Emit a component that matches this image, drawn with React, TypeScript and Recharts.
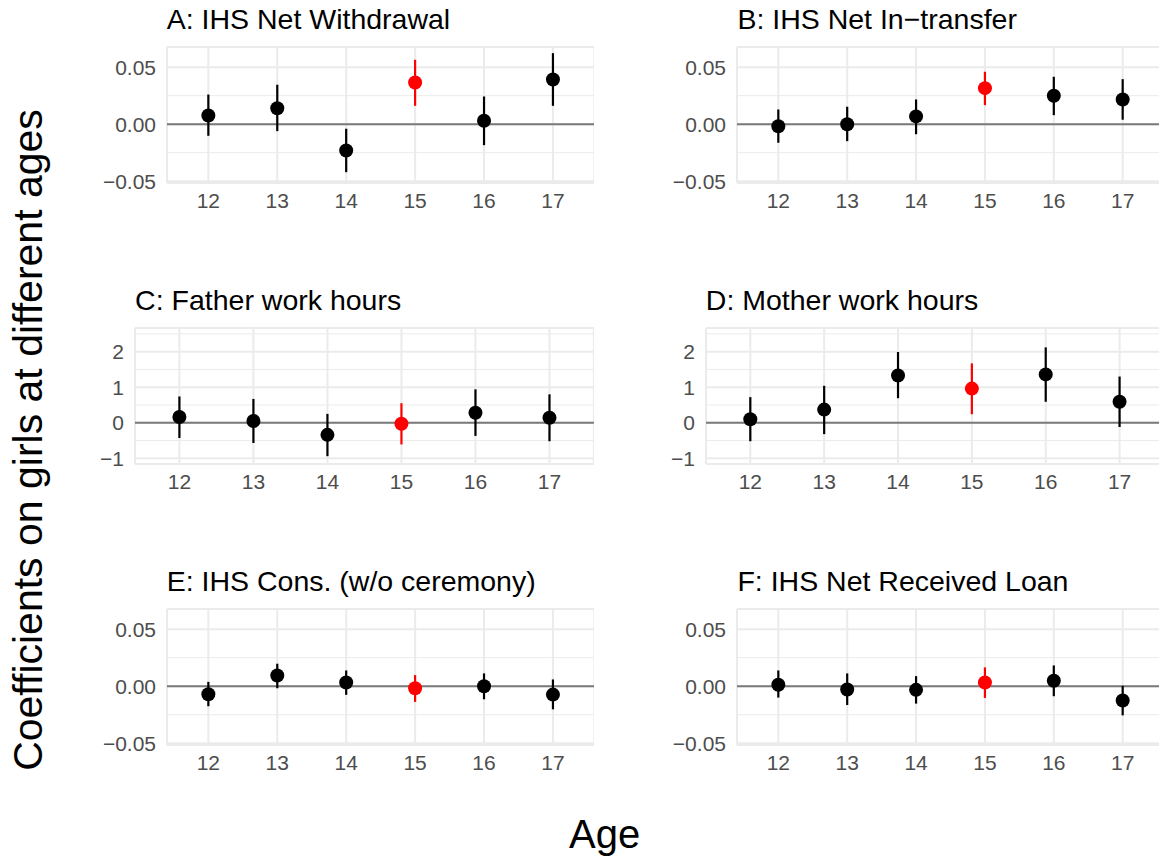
import React from "react";
import {
  ScatterChart,
  Scatter,
  XAxis,
  YAxis,
  CartesianGrid,
  ReferenceLine,
  ErrorBar,
} from "recharts";

const ages = [12, 13, 14, 15, 16, 17];
const highlightAge = 15;

const aEst = [0.0076, 0.014, -0.0231, 0.0366, 0.003, 0.0392];
const aLo = [-0.0102, -0.0061, -0.0421, 0.0161, -0.0184, 0.0161];
const aHi = [0.026, 0.0346, -0.004, 0.0565, 0.0243, 0.0623];

const bEst = [-0.0018, 0.0, 0.0068, 0.0316, 0.0249, 0.0217];
const bLo = [-0.0163, -0.0149, -0.0088, 0.0167, 0.0079, 0.0039];
const bHi = [0.0129, 0.0153, 0.0217, 0.046, 0.0416, 0.0395];

const cEst = [0.16, 0.05, -0.34, -0.03, 0.28, 0.14];
const cLo = [-0.43, -0.57, -0.94, -0.61, -0.37, -0.52];
const cHi = [0.74, 0.67, 0.25, 0.55, 0.94, 0.8];

const dEst = [0.1, 0.37, 1.33, 0.96, 1.36, 0.59];
const dLo = [-0.52, -0.32, 0.69, 0.24, 0.59, -0.12];
const dHi = [0.72, 1.04, 1.99, 1.67, 2.12, 1.3];

const eEst = [-0.0071, 0.0094, 0.0032, -0.0018, 0.0, -0.0074];
const eLo = [-0.0176, -0.0018, -0.0076, -0.0138, -0.0115, -0.0203];
const eHi = [0.0038, 0.0197, 0.0138, 0.0097, 0.0112, 0.0059];

const fEst = [0.0012, -0.0029, -0.0032, 0.0032, 0.0047, -0.0126];
const fLo = [-0.01, -0.0165, -0.0153, -0.0103, -0.0088, -0.0256];
const fHi = [0.0138, 0.0112, 0.0088, 0.0165, 0.0182, 0.0003];

const smallTicks = [-0.05, 0, 0.05];
const smallMinor = [-0.025, 0.025];
const bigTicks = [-1, 0, 1, 2];
const bigMinor = [-0.5, 0.5, 1.5, 2.5];

const titles = [
  "A: IHS Net Withdrawal",
  "B: IHS Net In\u2212transfer",
  "C: Father work hours",
  "D: Mother work hours",
  "E: IHS Cons. (w/o ceremony)",
  "F: IHS Net Received Loan",
];
const yTitle = "Coefficients on girls at different ages";
const xTitle = "Age";

const FONT = '"Liberation Sans", Arial, Helvetica, sans-serif';
const MINUS = "\u2212";

const fmtSmall = (v: number) =>
  (v < 0 ? MINUS : "") + Math.abs(v).toFixed(2);
const fmtBig = (v: number) => (v < 0 ? MINUS : "") + String(Math.abs(v));

const smallDomain: [number, number] = [-0.0516, 0.0677];
const bigDomain: [number, number] = [-1.16, 2.665];

const TICK_FS = 21;

const Dot = (color: string) => (props: any) =>
  <circle cx={props.cx} cy={props.cy} r={7} fill={color} />;

type PanelProps = {
  title: string;
  left: number;
  top: number;
  width: number;
  height: number;
  yDomain: [number, number];
  yTicks: number[];
  minor: number[];
  fmt: (v: number) => string;
  est: number[];
  lo: number[];
  hi: number[];
};

function Panel(p: PanelProps) {
  const AXW = 110;
  const TOPM = 12;
  const AXH = 44;
  const rows = ages.map((age, i) => ({
    age,
    est: p.est[i],
    err: [p.est[i] - p.lo[i], p.hi[i] - p.est[i]],
  }));
  const blackRows = rows.filter((r) => r.age !== highlightAge);
  const redRows = rows.filter((r) => r.age === highlightAge);
  const titleFs = 28.5;
  const baseline = p.top - 17;
  return (
    <>
      <div
        style={{
          position: "absolute",
          left: p.left,
          top: baseline - 0.8465 * titleFs,
          fontSize: titleFs,
          lineHeight: 1,
          fontFamily: FONT,
          color: "#000",
          whiteSpace: "nowrap",
        }}
      >
        {p.title}
      </div>
      <div style={{ position: "absolute", left: p.left - AXW, top: p.top - TOPM }}>
        <ScatterChart
          width={AXW + p.width}
          height={TOPM + p.height + AXH}
          margin={{ top: TOPM, right: 0, bottom: 0, left: 0 }}
        >
          <CartesianGrid stroke="#EBEBEB" strokeWidth={2} />
          <CartesianGrid
            stroke="#EBEBEB"
            strokeWidth={1}
            vertical={false}
            horizontalValues={p.minor}
          />
          <XAxis
            type="number"
            dataKey="age"
            domain={[11.4, 17.6]}
            ticks={ages}
            allowDataOverflow
            axisLine={false}
            tickLine={false}
            tickSize={0}
            tickMargin={10}
            height={AXH}
            tick={{ fill: "#4D4D4D", fontSize: TICK_FS, fontFamily: FONT }}
          />
          <YAxis
            type="number"
            dataKey="est"
            domain={p.yDomain}
            ticks={p.yTicks}
            allowDataOverflow
            axisLine={false}
            tickLine={false}
            tickSize={0}
            tickMargin={11}
            width={AXW}
            tickFormatter={p.fmt}
            tick={{ fill: "#4D4D4D", fontSize: TICK_FS, fontFamily: FONT }}
          />
          <ReferenceLine y={0} stroke="#7A7A7A" strokeWidth={2} />
          <Scatter
            data={blackRows}
            fill="#000000"
            shape={Dot("#000000")}
            isAnimationActive={false}
          >
            <ErrorBar
              dataKey="err"
              direction="y"
              width={0}
              stroke="#000000"
              strokeWidth={2.2}
              isAnimationActive={false}
            />
          </Scatter>
          <Scatter
            data={redRows}
            fill="#FF0000"
            shape={Dot("#FF0000")}
            isAnimationActive={false}
          >
            <ErrorBar
              dataKey="err"
              direction="y"
              width={0}
              stroke="#FF0000"
              strokeWidth={2.2}
              isAnimationActive={false}
            />
          </Scatter>
        </ScatterChart>
      </div>
    </>
  );
}

export default function App() {
  const rowTops = [46.5, 327.5, 608.5];
  const H = 136;
  const leftSmall = { left: 166.7, width: 427.3 };
  const rightSmall = { left: 737.4, width: 427 };
  const leftBig = { left: 135.1, width: 458.9 };
  const rightBig = { left: 705.8, width: 457.9 };
  return (
    <div
      style={{
        position: "absolute",
        left: 0,
        top: 0,
        width: 1159,
        height: 860,
        overflow: "hidden",
        background: "#fff",
        fontFamily: FONT,
      }}
    >
      <Panel
        title={titles[0]}
        {...leftSmall}
        top={rowTops[0]}
        height={H}
        yDomain={smallDomain}
        yTicks={smallTicks}
        minor={smallMinor}
        fmt={fmtSmall}
        est={aEst}
        lo={aLo}
        hi={aHi}
      />
      <Panel
        title={titles[1]}
        {...rightSmall}
        top={rowTops[0]}
        height={H}
        yDomain={smallDomain}
        yTicks={smallTicks}
        minor={smallMinor}
        fmt={fmtSmall}
        est={bEst}
        lo={bLo}
        hi={bHi}
      />
      <Panel
        title={titles[2]}
        {...leftBig}
        top={rowTops[1]}
        height={H}
        yDomain={bigDomain}
        yTicks={bigTicks}
        minor={bigMinor}
        fmt={fmtBig}
        est={cEst}
        lo={cLo}
        hi={cHi}
      />
      <Panel
        title={titles[3]}
        {...rightBig}
        top={rowTops[1]}
        height={H}
        yDomain={bigDomain}
        yTicks={bigTicks}
        minor={bigMinor}
        fmt={fmtBig}
        est={dEst}
        lo={dLo}
        hi={dHi}
      />
      <Panel
        title={titles[4]}
        {...leftSmall}
        top={rowTops[2]}
        height={H}
        yDomain={smallDomain}
        yTicks={smallTicks}
        minor={smallMinor}
        fmt={fmtSmall}
        est={eEst}
        lo={eLo}
        hi={eHi}
      />
      <Panel
        title={titles[5]}
        {...rightSmall}
        top={rowTops[2]}
        height={H}
        yDomain={smallDomain}
        yTicks={smallTicks}
        minor={smallMinor}
        fmt={fmtSmall}
        est={fEst}
        lo={fLo}
        hi={fHi}
      />
      <div
        style={{
          position: "absolute",
          left: 28,
          top: 440,
          transform: "translate(-50%, -50%) rotate(-90deg)",
          fontSize: 41,
          lineHeight: 1,
          whiteSpace: "nowrap",
          color: "#000",
        }}
      >
        {yTitle}
      </div>
      <div
        style={{
          position: "absolute",
          left: 604.7,
          top: 848.3 - 0.8465 * 40,
          transform: "translateX(-50%)",
          fontSize: 40,
          lineHeight: 1,
          whiteSpace: "nowrap",
          color: "#000",
        }}
      >
        {xTitle}
      </div>
    </div>
  );
}
